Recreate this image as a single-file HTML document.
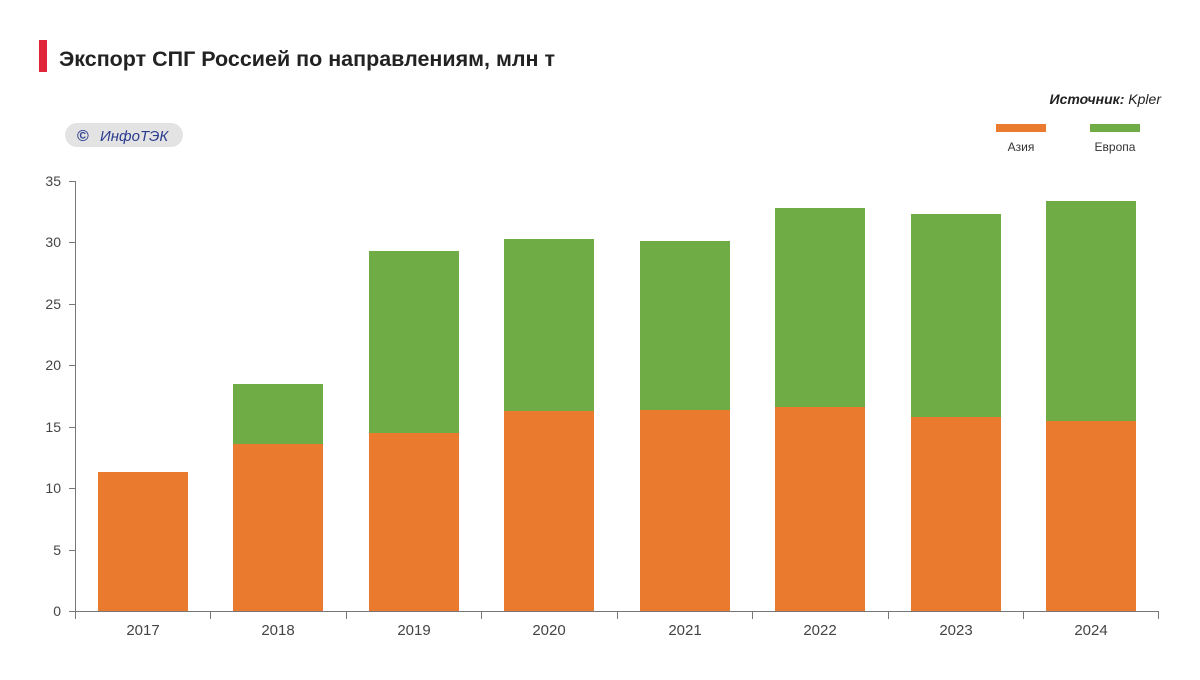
<!DOCTYPE html>
<html><head><meta charset="utf-8"><style>
body{margin:0;background:#fff;width:1200px;height:675px;overflow:hidden;font-family:"Liberation Sans",sans-serif}
</style></head><body>
<svg width="1200" height="675" xmlns="http://www.w3.org/2000/svg" font-family="Liberation Sans, sans-serif">
<rect x="39" y="40" width="8" height="32" fill="#e0263a"/>
<text x="59" y="66" font-size="21" font-weight="bold" fill="#222" textLength="496" lengthAdjust="spacingAndGlyphs">Экспорт СПГ Россией по направлениям, млн т</text>
<text x="1161" y="104" font-size="14" font-style="italic" fill="#222" text-anchor="end"><tspan font-weight="bold">Источник:</tspan> Kpler</text>
<rect x="65" y="123" width="118" height="24" rx="12" fill="#e3e3e3"/>
<text x="77" y="141" font-size="16" fill="#2b3d8f" font-weight="bold">©</text>
<text x="100" y="141" font-size="15" font-style="italic" fill="#2b3d8f">ИнфоТЭК</text>
<rect x="996" y="124" width="50" height="8" fill="#e97a2e"/>
<rect x="1090" y="124" width="50" height="8" fill="#6fac45"/>
<text x="1021" y="151" font-size="12" fill="#333" text-anchor="middle">Азия</text>
<text x="1115" y="151" font-size="12" fill="#333" text-anchor="middle">Европа</text>
<g font-size="14" fill="#444" text-anchor="end">
<text x="61" y="616">0</text><text x="61" y="555">5</text><text x="61" y="493">10</text><text x="61" y="432">15</text><text x="61" y="370">20</text><text x="61" y="309">25</text><text x="61" y="247">30</text><text x="61" y="186">35</text>
</g>
<g stroke="#777" stroke-width="1">
<line x1="75.5" y1="181" x2="75.5" y2="619"/>
<line x1="69" y1="611.5" x2="1159" y2="611.5"/>
<line x1="69" y1="550.5" x2="75" y2="550.5"/><line x1="69" y1="488.5" x2="75" y2="488.5"/><line x1="69" y1="427.5" x2="75" y2="427.5"/><line x1="69" y1="365.5" x2="75" y2="365.5"/><line x1="69" y1="304.5" x2="75" y2="304.5"/><line x1="69" y1="242.5" x2="75" y2="242.5"/><line x1="69" y1="181.5" x2="75" y2="181.5"/>
<line x1="210.5" y1="611" x2="210.5" y2="619"/><line x1="346.5" y1="611" x2="346.5" y2="619"/><line x1="481.5" y1="611" x2="481.5" y2="619"/><line x1="617.5" y1="611" x2="617.5" y2="619"/><line x1="752.5" y1="611" x2="752.5" y2="619"/><line x1="888.5" y1="611" x2="888.5" y2="619"/><line x1="1023.5" y1="611" x2="1023.5" y2="619"/><line x1="1158.5" y1="611" x2="1158.5" y2="619"/>
</g>
<g fill="#e97a2e">
<rect x="98" y="472" width="90" height="139"/>
<rect x="233" y="444" width="90" height="167"/>
<rect x="369" y="433" width="90" height="178"/>
<rect x="504" y="411" width="90" height="200"/>
<rect x="640" y="410" width="90" height="201"/>
<rect x="775" y="407" width="90" height="204"/>
<rect x="911" y="417" width="90" height="194"/>
<rect x="1046" y="421" width="90" height="190"/>
</g>
<g fill="#6fac45">
<rect x="233" y="384" width="90" height="60"/>
<rect x="369" y="251" width="90" height="182"/>
<rect x="504" y="239" width="90" height="172"/>
<rect x="640" y="241" width="90" height="169"/>
<rect x="775" y="208" width="90" height="199"/>
<rect x="911" y="214" width="90" height="203"/>
<rect x="1046" y="201" width="90" height="220"/>
</g>
<g font-size="15" fill="#444" text-anchor="middle">
<text x="143" y="635">2017</text><text x="278" y="635">2018</text><text x="414" y="635">2019</text><text x="549" y="635">2020</text><text x="685" y="635">2021</text><text x="820" y="635">2022</text><text x="956" y="635">2023</text><text x="1091" y="635">2024</text>
</g>
</svg>
</body></html>
